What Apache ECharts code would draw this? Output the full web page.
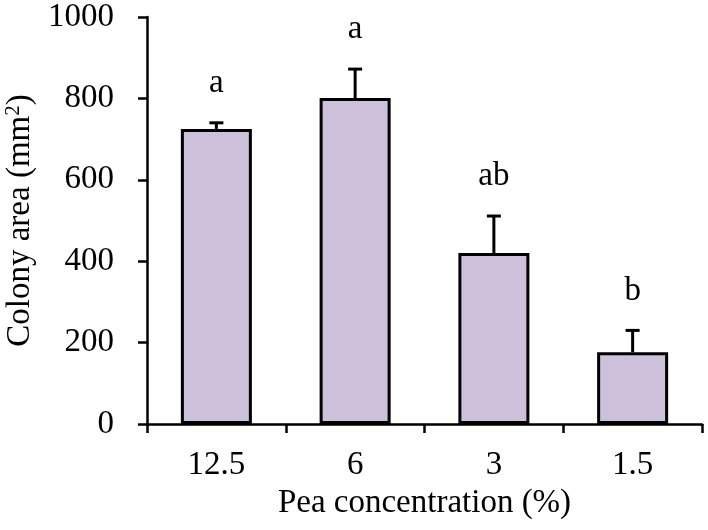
<!DOCTYPE html>
<html>
	<head>
		<meta charset="utf-8" />
		<title>Colony area</title>
		<style type="text/css">
			html, body { margin: 0; padding: 0; background: #fff; }
			#chart { width: 708px; height: 530px; }
		</style>
	</head>
	<body>
		<div id="chart"></div>
	</body>
</html>
<script src="https://cdn.jsdelivr.net/npm/echarts@6/dist/echarts.min.js"></script>
<script>
	// data
	var categories = ['12.5', '6', '3', '1.5'];
	var means = [725, 801, 420, 176];
	var errors = [15, 71, 91, 54];
	var letters = ['a', 'a', 'ab', 'b'];
	var yTicks = [0, 200, 400, 600, 800, 1000];

	var serif = '"Liberation Serif", "Times New Roman", serif';

	var errData = [];
	for (var i = 0; i < means.length; i++) {
		errData.push([i, means[i], means[i] + errors[i]]);
	}

	var myChart = echarts.init(document.getElementById('chart'));

	var options = {
		animation: false,
		backgroundColor: '#fff',
		grid: {
			left: 147,
			right: 6,
			top: 17,
			bottom: 106,
			outerBoundsMode: 'none'
		},
		xAxis: {
			type: 'category',
			data: categories,
			name: 'Pea concentration (%)',
			nameLocation: 'middle',
			nameGap: 63,
			nameTextStyle: { fontFamily: serif, fontSize: 33, color: '#000' },
			axisLine: { lineStyle: { color: '#000', width: 2.5 } },
			axisTick: { show: true, length: 9, lineStyle: { color: '#000', width: 2.5 } },
			axisLabel: { margin: 25, fontFamily: serif, fontSize: 33, color: '#000' },
			splitLine: { show: false }
		},
		yAxis: {
			type: 'value',
			min: yTicks[0],
			max: yTicks[yTicks.length - 1],
			interval: 200,
			name: 'Colony area (mm{sup|2})',
			nameLocation: 'middle',
			nameGap: 100,
			nameRotate: 90,
			nameTextStyle: {
				fontFamily: serif, fontSize: 33, color: '#000',
				rich: {
					sup: { fontFamily: serif, fontSize: 21, color: '#000', verticalAlign: 'top', padding: [0, 0, 14, 0] }
				}
			},
			axisLine: { show: true, lineStyle: { color: '#000', width: 2.5 } },
			axisTick: { show: true, length: 9, lineStyle: { color: '#000', width: 2.5 } },
			axisLabel: {
				margin: 33, fontFamily: serif, fontSize: 33, color: '#000',
				formatter: function (v) { return String(v); }
			},
			splitLine: { show: false }
		},
		series: [
			{
				name: 'area',
				type: 'bar',
				data: means,
				barWidth: 71,
				itemStyle: { color: '#CCC0DA', borderColor: '#000', borderWidth: 3 }
			},
			{
				name: 'err',
				type: 'custom',
				z: 5,
				data: errData,
				renderItem: function (params, api) {
					var idx = api.value(0);
					var base = api.coord([idx, api.value(1)]);
					var top = api.coord([idx, api.value(2)]);
					var half = 7;
					return {
						type: 'group',
						children: [
							{ type: 'line', shape: { x1: top[0], y1: base[1], x2: top[0], y2: top[1] },
								style: { stroke: '#000', lineWidth: 3 } },
							{ type: 'line', shape: { x1: top[0] - half, y1: top[1], x2: top[0] + half, y2: top[1] },
								style: { stroke: '#000', lineWidth: 3 } },
							{ type: 'text', x: top[0], y: top[1] - 23,
								style: { text: letters[idx], align: 'center', verticalAlign: 'bottom',
									fontFamily: serif, fontSize: 33, fill: '#000' } }
						]
					};
				}
			}
		]
	};

	myChart.setOption(options);
</script>
